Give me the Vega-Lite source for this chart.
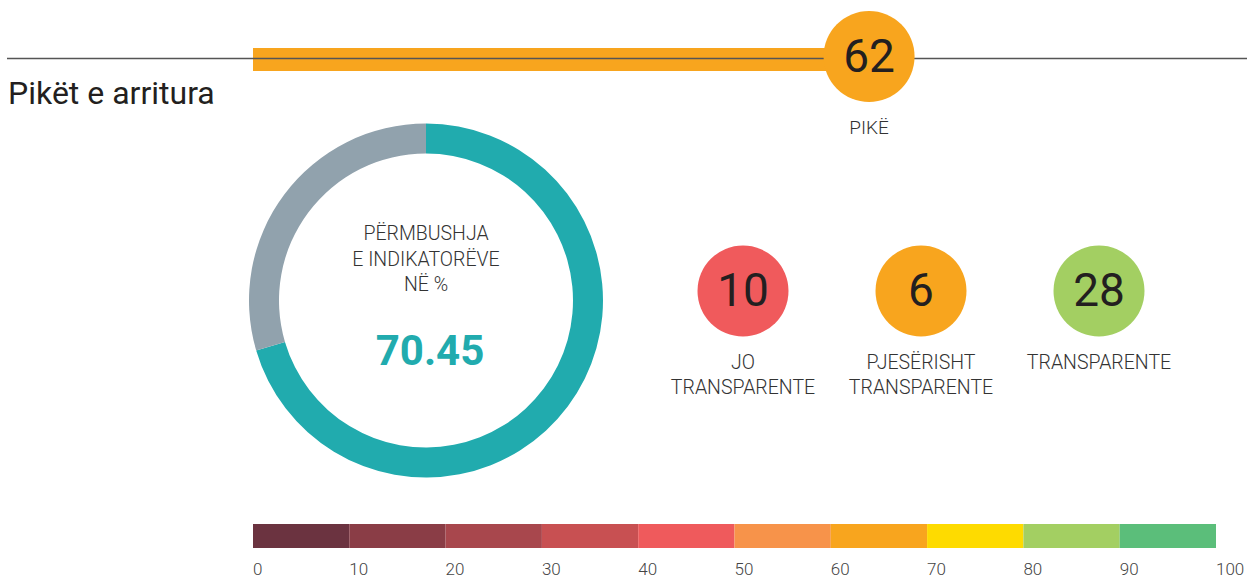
{
  "$schema": "https://vega.github.io/schema/vega-lite/v6.json",
  "width": 1259,
  "height": 579,
  "autosize": {"type": "none"},
  "padding": 0,
  "background": "white",
  "config": {"view": {"stroke": null}, "text": {"font": "Roboto"}},
  "datasets": {
    "score": [{"label": "PIKË", "score": 62, "title": "Pikët e arritura"}],
    "fulfil": [
      {"part": "Përmbushur", "pct": 70.45},
      {"part": "Pa përmbushur", "pct": 29.55}
    ],
    "center": [{"label": "PËRMBUSHJA\nE INDIKATORËVE\nNË %", "pct": 70.45}],
    "counts": [
      {"cat": "JO TRANSPARENTE", "n": 10, "label": "JO\nTRANSPARENTE"},
      {"cat": "PJESËRISHT TRANSPARENTE", "n": 6, "label": "PJESËRISHT\nTRANSPARENTE"},
      {"cat": "TRANSPARENTE", "n": 28, "label": "TRANSPARENTE"}
    ],
    "bands": [
      {"lo": 0, "hi": 10}, {"lo": 10, "hi": 20}, {"lo": 20, "hi": 30}, {"lo": 30, "hi": 40},
      {"lo": 40, "hi": 50}, {"lo": 50, "hi": 60}, {"lo": 60, "hi": 70}, {"lo": 70, "hi": 80},
      {"lo": 80, "hi": 90}, {"lo": 90, "hi": 100}
    ],
    "ticks": [
      {"t": 0}, {"t": 10}, {"t": 20}, {"t": 30}, {"t": 40}, {"t": 50},
      {"t": 60}, {"t": 70}, {"t": 80}, {"t": 90}, {"t": 100}
    ]
  },
  "layer": [
    {
      "data": {"name": "score"},
      "mark": {"type": "bar", "color": "#F8A51E"},
      "encoding": {
        "x": {"field": "score", "type": "quantitative", "scale": {"domain": [0, 100], "range": [253, 1216]}, "axis": null},
        "x2": {"datum": 0},
        "y": {"value": 48},
        "y2": {"value": 71}
      }
    },
    {
      "data": {"name": "score"},
      "mark": {"type": "rule", "color": "#555555", "strokeWidth": 1.4},
      "encoding": {
        "x": {"value": 7},
        "x2": {"value": 1247},
        "y": {"value": 58.5}
      }
    },
    {
      "data": {"name": "score"},
      "mark": {"type": "point", "shape": "circle", "filled": true, "opacity": 1, "color": "#F8A51E", "size": 8281, "xOffset": 19},
      "encoding": {
        "x": {"field": "score", "type": "quantitative", "scale": {"domain": [0, 100], "range": [253, 1216]}, "axis": null},
        "y": {"value": 56.5}
      }
    },
    {
      "data": {"name": "score"},
      "mark": {"type": "text", "dx": 19, "baseline": "middle", "align": "center", "fontSize": 46, "color": "#231F20", "font": "Roboto"},
      "encoding": {
        "x": {"field": "score", "type": "quantitative", "scale": {"domain": [0, 100], "range": [253, 1216]}, "axis": null},
        "y": {"value": 58},
        "text": {"field": "score"}
      }
    },
    {
      "data": {"name": "score"},
      "mark": {"type": "text", "dx": 19, "baseline": "alphabetic", "align": "center", "fontSize": 19, "fontWeight": 300, "color": "#333333", "font": "Roboto"},
      "encoding": {
        "x": {"field": "score", "type": "quantitative", "scale": {"domain": [0, 100], "range": [253, 1216]}, "axis": null},
        "y": {"value": 134},
        "text": {"field": "label"}
      }
    },
    {
      "data": {"name": "score"},
      "mark": {"type": "text", "baseline": "alphabetic", "align": "left", "fontSize": 32, "color": "#231F20", "font": "Roboto"},
      "encoding": {
        "x": {"value": 8},
        "y": {"value": 104},
        "text": {"field": "title"}
      }
    },
    {
      "data": {"name": "fulfil"},
      "mark": {"type": "arc", "radius": 177, "radius2": 147},
      "encoding": {
        "x": {"value": 426},
        "y": {"value": 300.5},
        "theta": {"field": "pct", "type": "quantitative", "stack": true},
        "color": {"field": "part", "type": "nominal", "scale": {"domain": ["Përmbushur", "Pa përmbushur"], "range": ["#21ABAE", "#91A2AD"]}, "legend": null},
        "order": {"field": "part", "sort": "descending"}
      }
    },
    {
      "data": {"name": "center"},
      "mark": {"type": "text", "baseline": "alphabetic", "align": "center", "fontSize": 19.5, "fontWeight": 300, "lineBreak": "\n", "lineHeight": 25.5, "color": "#333333", "font": "Roboto"},
      "encoding": {
        "x": {"value": 426},
        "y": {"value": 240},
        "text": {"field": "label"}
      }
    },
    {
      "data": {"name": "center"},
      "mark": {"type": "text", "baseline": "alphabetic", "align": "center", "fontSize": 42, "fontWeight": "bold", "color": "#21ABAE", "font": "Roboto"},
      "encoding": {
        "x": {"value": 430},
        "y": {"value": 365},
        "text": {"field": "pct", "type": "quantitative", "format": ".2f"}
      }
    },
    {
      "data": {"name": "counts"},
      "mark": {"type": "point", "shape": "circle", "filled": true, "opacity": 1, "size": 8281},
      "encoding": {
        "x": {"field": "cat", "type": "nominal", "sort": null, "scale": {"type": "point", "domain": ["JO TRANSPARENTE", "PJESËRISHT TRANSPARENTE", "TRANSPARENTE"], "range": [743, 1099], "padding": 0}, "axis": null},
        "y": {"value": 291},
        "color": {"field": "cat", "type": "nominal", "scale": {"domain": ["JO TRANSPARENTE", "PJESËRISHT TRANSPARENTE", "TRANSPARENTE"], "range": ["#F05A5C", "#F8A51E", "#A3CF62"]}, "legend": null}
      }
    },
    {
      "data": {"name": "counts"},
      "mark": {"type": "text", "baseline": "middle", "align": "center", "fontSize": 46, "color": "#231F20", "font": "Roboto"},
      "encoding": {
        "x": {"field": "cat", "type": "nominal", "sort": null, "scale": {"type": "point", "domain": ["JO TRANSPARENTE", "PJESËRISHT TRANSPARENTE", "TRANSPARENTE"], "range": [743, 1099], "padding": 0}, "axis": null},
        "y": {"value": 292},
        "text": {"field": "n"}
      }
    },
    {
      "data": {"name": "counts"},
      "mark": {"type": "text", "baseline": "alphabetic", "align": "center", "fontSize": 19.5, "fontWeight": 300, "lineBreak": "\n", "lineHeight": 25, "color": "#333333", "font": "Roboto"},
      "encoding": {
        "x": {"field": "cat", "type": "nominal", "sort": null, "scale": {"type": "point", "domain": ["JO TRANSPARENTE", "PJESËRISHT TRANSPARENTE", "TRANSPARENTE"], "range": [743, 1099], "padding": 0}, "axis": null},
        "y": {"value": 369},
        "text": {"field": "label"}
      }
    },
    {
      "data": {"name": "bands"},
      "mark": {"type": "bar"},
      "encoding": {
        "x": {"field": "lo", "type": "quantitative", "scale": {"domain": [0, 100], "range": [253, 1216]}, "axis": null},
        "x2": {"field": "hi"},
        "y": {"value": 524},
        "y2": {"value": 548},
        "color": {"field": "lo", "type": "ordinal", "scale": {"domain": [0, 10, 20, 30, 40, 50, 60, 70, 80, 90], "range": ["#6B3340", "#8A3D46", "#A8474D", "#C85052", "#EF5A5C", "#F7934A", "#F8A51E", "#FEDB00", "#A3CF62", "#5BBE7A"]}, "legend": null}
      }
    },
    {
      "data": {"name": "ticks"},
      "mark": {"type": "text", "baseline": "alphabetic", "align": "left", "fontSize": 17, "fontWeight": 300, "color": "#444444", "font": "Roboto"},
      "encoding": {
        "x": {"field": "t", "type": "quantitative", "scale": {"domain": [0, 100], "range": [253, 1216]}, "axis": null},
        "y": {"value": 575},
        "text": {"field": "t"}
      }
    }
  ],
  "resolve": {"scale": {"x": "independent", "color": "independent"}}
}
